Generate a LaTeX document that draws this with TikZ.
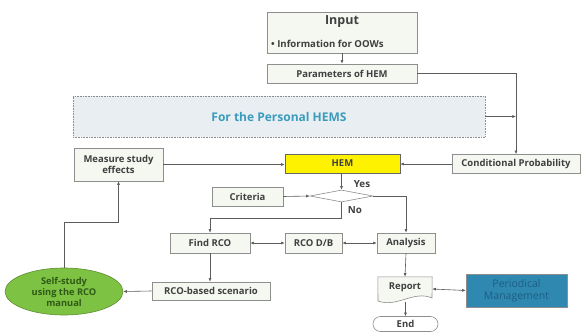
\documentclass[tikz,border=0pt]{standalone}
\usepackage{fontspec}
\setmainfont{Open Sans}
\usetikzlibrary{arrows.meta,shapes.geometric,shapes.misc}
\definecolor{boxfill}{HTML}{F4F8F1}
\definecolor{boxline}{HTML}{8E8E8E}
\definecolor{txt}{HTML}{404040}
\definecolor{wire}{HTML}{5C5C5C}
\definecolor{hemsfill}{HTML}{E9EEF2}
\definecolor{hemstxt}{HTML}{3A9CBC}
\definecolor{leaf}{HTML}{7DC242}
\definecolor{leafline}{HTML}{5E8E33}
\definecolor{leaftxt}{HTML}{2F5A17}
\definecolor{teal}{HTML}{2E88B0}
\definecolor{tealtxt}{HTML}{1E5E86}
\tikzset{
  stepbox/.style={draw=boxline, fill=boxfill, line width=0.6pt, text=txt,
    font=\bfseries\fontsize{9.5}{10.5}\selectfont, inner sep=1pt, align=center},
  wire/.style={draw=wire, line width=0.6pt},
  arr/.style={wire, -{Latex[length=3.6pt,width=3pt]}},
  darr/.style={wire, {Latex[length=3.6pt,width=3pt]}-{Latex[length=3.6pt,width=3pt]}},
}
\begin{document}
\begin{tikzpicture}[x=1pt,y=-1pt]
\useasboundingbox (0,0) rectangle (581,332);
\fill[white] (0,0) rectangle (581,332);

% input block
\node[stepbox, minimum width=150pt, minimum height=41pt] (input) at (342,32.5) {};
\node[text=txt, font=\bfseries\fontsize{12.5}{14}\selectfont] (inputttl) at (342,22) {Input};
\node[text=txt, font=\bfseries\fontsize{9.6}{10}\selectfont, anchor=west, inner sep=0pt] (inputitem) at (271,43.5) {• Information for OOWs};
\node[stepbox, minimum width=150pt, minimum height=19pt] (params) at (342,73.5) {Parameters of HEM};

% personal HEMS band
\node[draw=boxline, densely dotted, fill=hemsfill, line width=0.6pt, minimum width=412pt, minimum height=41pt,
  text=hemstxt, font=\bfseries\fontsize{12}{14}\selectfont] (hems) at (279,116.5) {For the Personal HEMS};

% middle row
\node[stepbox, minimum width=89pt, minimum height=33pt] (measure) at (118.5,164.5) {Measure study\\effects};
\node[stepbox, fill=yellow, draw=black!60, minimum width=115pt, minimum height=19pt] (hem) at (342.5,163.5) {HEM};
\node[stepbox, minimum width=128pt, minimum height=19pt] (cond) at (516,164) {Conditional Probability};

% decision
\node[stepbox, minimum width=71pt, minimum height=19pt] (criteria) at (247.5,196.5) {Criteria};
\node[draw=boxline, fill=white, line width=0.6pt, diamond, minimum width=63pt, minimum height=12pt, inner sep=0pt] (dec) at (341.5,196) {};
\node[text=txt, font=\bfseries\fontsize{9.8}{10}\selectfont] (yes) at (362,184.5) {Yes};
\node[text=txt, font=\bfseries\fontsize{9.8}{10}\selectfont] (no) at (355,210) {No};

% RCO row
\node[stepbox, minimum width=80pt, minimum height=20pt] (find) at (210,243) {Find RCO};
\node[stepbox, minimum width=57pt, minimum height=20pt] (db) at (313.5,243) {RCO D/B};
\node[stepbox, minimum width=58pt, minimum height=20pt] (analysis) at (406,243) {Analysis};
\node[stepbox, minimum width=118pt, minimum height=18pt] (scen) at (211,291) {RCO-based scenario};
\node[ellipse, draw=leafline, fill=leaf, line width=0.6pt, minimum width=118pt, minimum height=47pt, inner sep=0pt,
  text=leaftxt, align=center, font=\bfseries\fontsize{9.3}{11}\selectfont] (self) at (64,291.5) {Self-study\\using the RCO\\manual};

% report (document shape)
\node[minimum width=54pt, minimum height=24pt, inner sep=0pt] (report) at (405,289) {};
\draw[draw=boxline, fill=boxfill, line width=0.6pt]
  (report.north west) -- (report.north east) -- (432,298)
  .. controls (414,290) and (397,308) .. (378,301) -- cycle;
\node[text=txt, font=\bfseries\fontsize{9.5}{10}\selectfont] (reporttxt) at (405,287.5) {Report};
\node[draw=boxline, fill=teal, line width=0.6pt, minimum width=101pt, minimum height=33pt, align=center,
  text=tealtxt, font=\fontsize{10.5}{12}\selectfont] (period) at (516.5,290.5) {Periodical\\Management};
\node[rounded rectangle, draw=boxline, fill=white, line width=0.6pt, minimum width=65pt, minimum height=15pt, inner sep=0pt,
  text=txt, font=\bfseries\fontsize{9.5}{10}\selectfont] (end) at (405.5,324) {End};

% connectors
\coordinate (join) at (cond.north |- hems.east);
\coordinate (bend) at (341.5,218);
\coordinate (rise) at (64,222);
\draw[arr] (input) -- (params);
\draw[arr] (params.east) -| (cond.north);
\draw[arr] (hems.east) -- (join);
\draw[arr] (cond.west) -- (hem.east |- cond.west);
\draw[arr] (measure.east) -- (hem.west |- measure.east);
\draw[arr] (hem.south -| dec.north) -- (dec.north);
\draw[arr] (criteria.east) -- (dec.west);
\draw[arr] (dec.south) -- (bend) -| (find.north);
\draw[arr] (dec.east) -| (analysis.north);
\draw[darr] (find) -- (db);
\draw[darr] (db) -- (analysis);
\draw[arr] (find.south) -- (find.south |- scen.north);
\draw[arr] (scen.west) -- (self.east);
\draw[arr] (self.north) -- (rise) -| (measure.south);
\draw[arr] (analysis.south) -- (report.north);
\draw[darr] (report.east) -- (period.west);
\draw[arr] (405.5,302) -- (end.north);
\end{tikzpicture}
\end{document}
